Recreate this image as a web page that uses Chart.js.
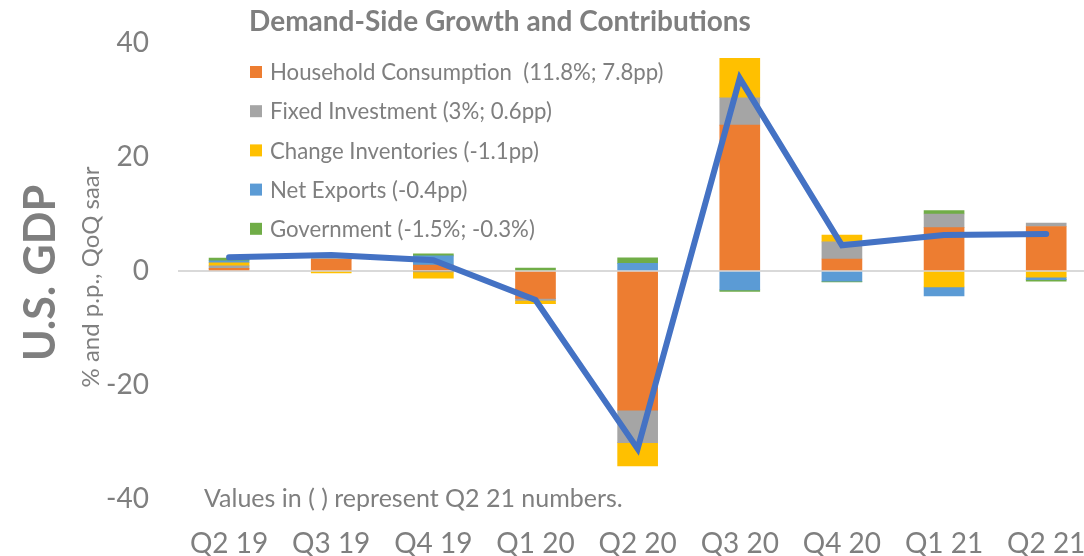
<!DOCTYPE html>
<html>
<head>
<meta charset="utf-8">
<script src="https://cdn.jsdelivr.net/npm/chart.js@4"></script>
<style>
html,body{margin:0;padding:0;background:#fff;overflow:hidden;}
#wrap{width:1084px;height:556px;position:relative;}
</style>
</head>
<body>
<div id="wrap"><canvas id="c"></canvas></div>
<script>
// ---- data ----
const categories = ['Q2 19','Q3 19','Q4 19','Q1 20','Q2 20','Q3 20','Q4 20','Q1 21','Q2 21'];
const household   = [0.45, 2.1, 1.05, -4.8, -24.4, 25.6, 2.1, 7.6, 7.8];
const fixedInv    = [0.45, 0, -0.1, -0.35, -5.7, 4.8, 3.0, 2.4, 0.6];
const inventories = [0.55, -0.35, -1.15, -0.6, -4.1, 6.9, 1.2, -2.8, -1.1];
const netExports  = [0.35, 0, 1.6, 0, 1.35, -3.3, -1.8, -1.55, -0.4];
const government  = [0.45, 0, 0.35, 0.5, 0.95, -0.3, -0.1, 0.6, -0.3];
const gdp         = [2.4, 2.8, 1.9, -5.1, -31.2, 33.8, 4.5, 6.3, 6.5];
const yTicks      = [-40, -20, 0, 20, 40];
const seriesNames = [
  'Household Consumption  (11.8%; 7.8pp)',
  'Fixed Investment (3%; 0.6pp)',
  'Change Inventories (-1.1pp)',
  'Net Exports (-0.4pp)',
  'Government (-1.5%; -0.3%)'
];
const chartTitle = 'Demand-Side Growth and Contributions';
const yTitleMain = 'U.S. GDP';
const yTitleSub = '% and p.p., QoQ saar';
const noteText = 'Values in ( ) represent Q2 21 numbers.';

const colors = ['#ED7D31', '#A5A5A5', '#FFC000', '#5B9BD5', '#70AD47'];
const TXT = '#7f7f7f';
const FONT = 'Lato, "Open Sans", sans-serif';

const toXY = arr => arr.map((v, i) => ({x: i, y: v}));
const barSeries = [household, fixedInv, inventories, netExports, government];

const datasets = barSeries.map((arr, k) => ({
  type: 'bar',
  label: seriesNames[k],
  data: toXY(arr),
  backgroundColor: colors[k],
  borderWidth: 0,
  barThickness: 40,
  stack: 'contrib',
  order: 1
}));
datasets.push({
  type: 'line',
  label: 'GDP',
  data: toXY(gdp),
  borderColor: '#4472C4',
  borderWidth: 6,
  pointRadius: 0,
  borderCapStyle: 'round',
  borderJoinStyle: 'miter',
  tension: 0,
  stack: 'gdp',
  order: 0
});

const textPlugin = {
  id: 'texts',
  afterDraw(chart) {
    const ctx = chart.ctx;
    ctx.save();
    ctx.fillStyle = TXT;
    // title
    ctx.font = 'bold 28px ' + FONT;
    ctx.textAlign = 'center';
    ctx.textBaseline = 'middle';
    ctx.fillText(chartTitle, 500, 22);
    // legend
    ctx.font = '22.2px ' + FONT;
    ctx.textAlign = 'left';
    seriesNames.forEach((name, i) => {
      const y = 72 + i * 39.2;
      ctx.fillStyle = colors[i];
      ctx.fillRect(250, y - 6, 12, 12);
      ctx.fillStyle = TXT;
      ctx.fillText(name, 270, y + 1);
    });
    // note
    ctx.font = '25px ' + FONT;
    ctx.fillText(noteText, 204, 499);
    // y titles
    ctx.save();
    ctx.translate(41, 273);
    ctx.rotate(-Math.PI / 2);
    ctx.textAlign = 'center';
    ctx.font = 'bold 43px ' + FONT;
    ctx.fillText(yTitleMain, 0, 0);
    ctx.restore();
    ctx.save();
    ctx.translate(91, 277);
    ctx.rotate(-Math.PI / 2);
    ctx.textAlign = 'center';
    ctx.font = '24px ' + FONT;
    ctx.fillText(yTitleSub, 0, 0);
    ctx.restore();
    ctx.restore();
  }
};

new Chart(document.getElementById('c'), {
  data: { datasets },
  options: {
    responsive: true,
    maintainAspectRatio: false,
    animation: false,
    layout: { padding: { top: 43, left: 0, right: 0, bottom: 0 } },
    plugins: { legend: { display: false }, tooltip: { enabled: false }, title: { display: false } },
    scales: {
      x: {
        type: 'linear',
        stacked: true,
        offset: false,
        min: -0.5,
        max: 8.37,
        afterBuildTicks: s => { s.ticks = categories.map((_, i) => ({value: i})); },
        afterFit: s => { s.height = 57; s.paddingLeft = 0; s.paddingRight = 0; },
        ticks: {
          autoSkip: false,
          maxRotation: 0,
          padding: 28,
          color: TXT,
          font: { family: FONT, size: 28 },
          callback: v => categories[v]
        },
        grid: { display: false, drawTicks: false, offset: false },
        border: { display: false }
      },
      y: {
        stacked: true,
        min: -40,
        max: 40,
        afterBuildTicks: s => { s.ticks = yTicks.map(v => ({value: v})); },
        afterFit: s => { s.width = 178; s.paddingTop = 0; s.paddingBottom = 0; },
        ticks: {
          padding: 29,
          color: TXT,
          font: { family: FONT, size: 28 }
        },
        grid: {
          drawTicks: false,
          lineWidth: 2,
          color: c => c.tick && c.tick.value === 0 ? '#d9d9d9' : 'rgba(0,0,0,0)'
        },
        border: { display: false }
      }
    }
  },
  plugins: [textPlugin]
});
</script>
</body>
</html>
